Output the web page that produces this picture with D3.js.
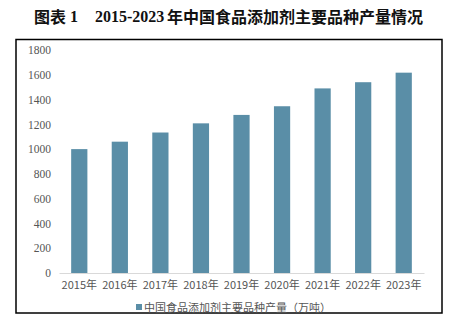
<!DOCTYPE html>
<html>
<head>
<meta charset="utf-8">
<script src="https://cdn.jsdelivr.net/npm/d3@7"></script>
<style>
  html, body { margin: 0; padding: 0; background: #fff; }
  svg { display: block; }
</style>
</head>
<body>
<svg id="chart" width="458" height="324"></svg>
<script>
// Annual output of China's main food additive varieties, 2015-2023 (10k tonnes)
const years = ["2015年", "2016年", "2017年", "2018年", "2019年", "2020年", "2021年", "2022年", "2023年"];
const output = [1000, 1060, 1134, 1208, 1276, 1346, 1490, 1540, 1617];
const yTicks = [0, 200, 400, 600, 800, 1000, 1200, 1400, 1600, 1800];
const seriesName = "中国食品添加剂主要品种产量（万吨）";

const svg = d3.select("#chart");
const barColor = "#5a8ea7";

// Title: bold serif numerals with bold CJK text
const title = svg.append("text")
  .attr("y", 16)
  .attr("dominant-baseline", "central")
  .attr("font-weight", "bold")
  .attr("font-size", 16)
  .attr("fill", "#111");
title.append("tspan").attr("x", 34)
  .attr("font-family", "'Noto Sans CJK SC', sans-serif").text("图表");
title.append("tspan").attr("x", 70)
  .attr("font-family", "'Liberation Serif', 'Times New Roman', serif").text("1");
title.append("tspan").attr("x", 95)
  .attr("font-family", "'Liberation Serif', 'Times New Roman', serif").text("2015-2023");
title.append("tspan").attr("x", 167)
  .attr("font-family", "'Noto Sans CJK SC', sans-serif").text("年中国食品添加剂主要品种产量情况");

// Chart frame
svg.append("rect")
  .attr("x", 16).attr("y", 39.5)
  .attr("width", 426).attr("height", 273.5)
  .attr("fill", "none")
  .attr("stroke", "#000")
  .attr("stroke-width", 1.5);

const plot = { left: 59, right: 424, top: 50, bottom: 273 };

const x = d3.scaleBand()
  .domain(years)
  .range([plot.left, plot.right])
  .paddingInner(0.6)
  .paddingOuter(0.3);

const y = d3.scaleLinear()
  .domain([0, 1800])
  .range([plot.bottom, plot.top]);

// Bars
svg.append("g")
  .selectAll("rect")
  .data(output)
  .join("rect")
  .attr("x", (d, i) => x(years[i]))
  .attr("y", d => y(d))
  .attr("width", x.bandwidth())
  .attr("height", d => y(0) - y(d))
  .attr("fill", barColor);

// Y axis (labels only)
const yAxis = svg.append("g")
  .attr("transform", `translate(${plot.left - 8},0)`)
  .call(d3.axisLeft(y).tickValues(yTicks).tickFormat(d3.format("d")).tickSize(0).tickPadding(0));
yAxis.select(".domain").remove();
yAxis.selectAll("text")
  .attr("font-family", "'Liberation Serif', 'Times New Roman', serif")
  .attr("font-size", 11.5)
  .attr("fill", "#555");

// X axis with light baseline
const xAxis = svg.append("g")
  .attr("transform", `translate(0,${plot.bottom})`)
  .call(d3.axisBottom(x).tickSize(0).tickPadding(8));
xAxis.select(".domain")
  .attr("stroke", "#d9d9d9")
  .attr("stroke-width", 1);
xAxis.selectAll("text")
  .attr("font-family", "'Noto Sans CJK SC', sans-serif")
  .attr("font-size", 11)
  .attr("fill", "#555");

// Legend
const legend = svg.append("g").attr("transform", "translate(136,307)");
legend.append("rect")
  .attr("x", 0).attr("y", -3)
  .attr("width", 6).attr("height", 6)
  .attr("fill", barColor);
legend.append("text")
  .attr("x", 8).attr("y", 0)
  .attr("dominant-baseline", "central")
  .attr("font-family", "'Noto Sans CJK SC', sans-serif")
  .attr("font-size", 11)
  .attr("fill", "#555")
  .text(seriesName);
</script>
</body>
</html>
